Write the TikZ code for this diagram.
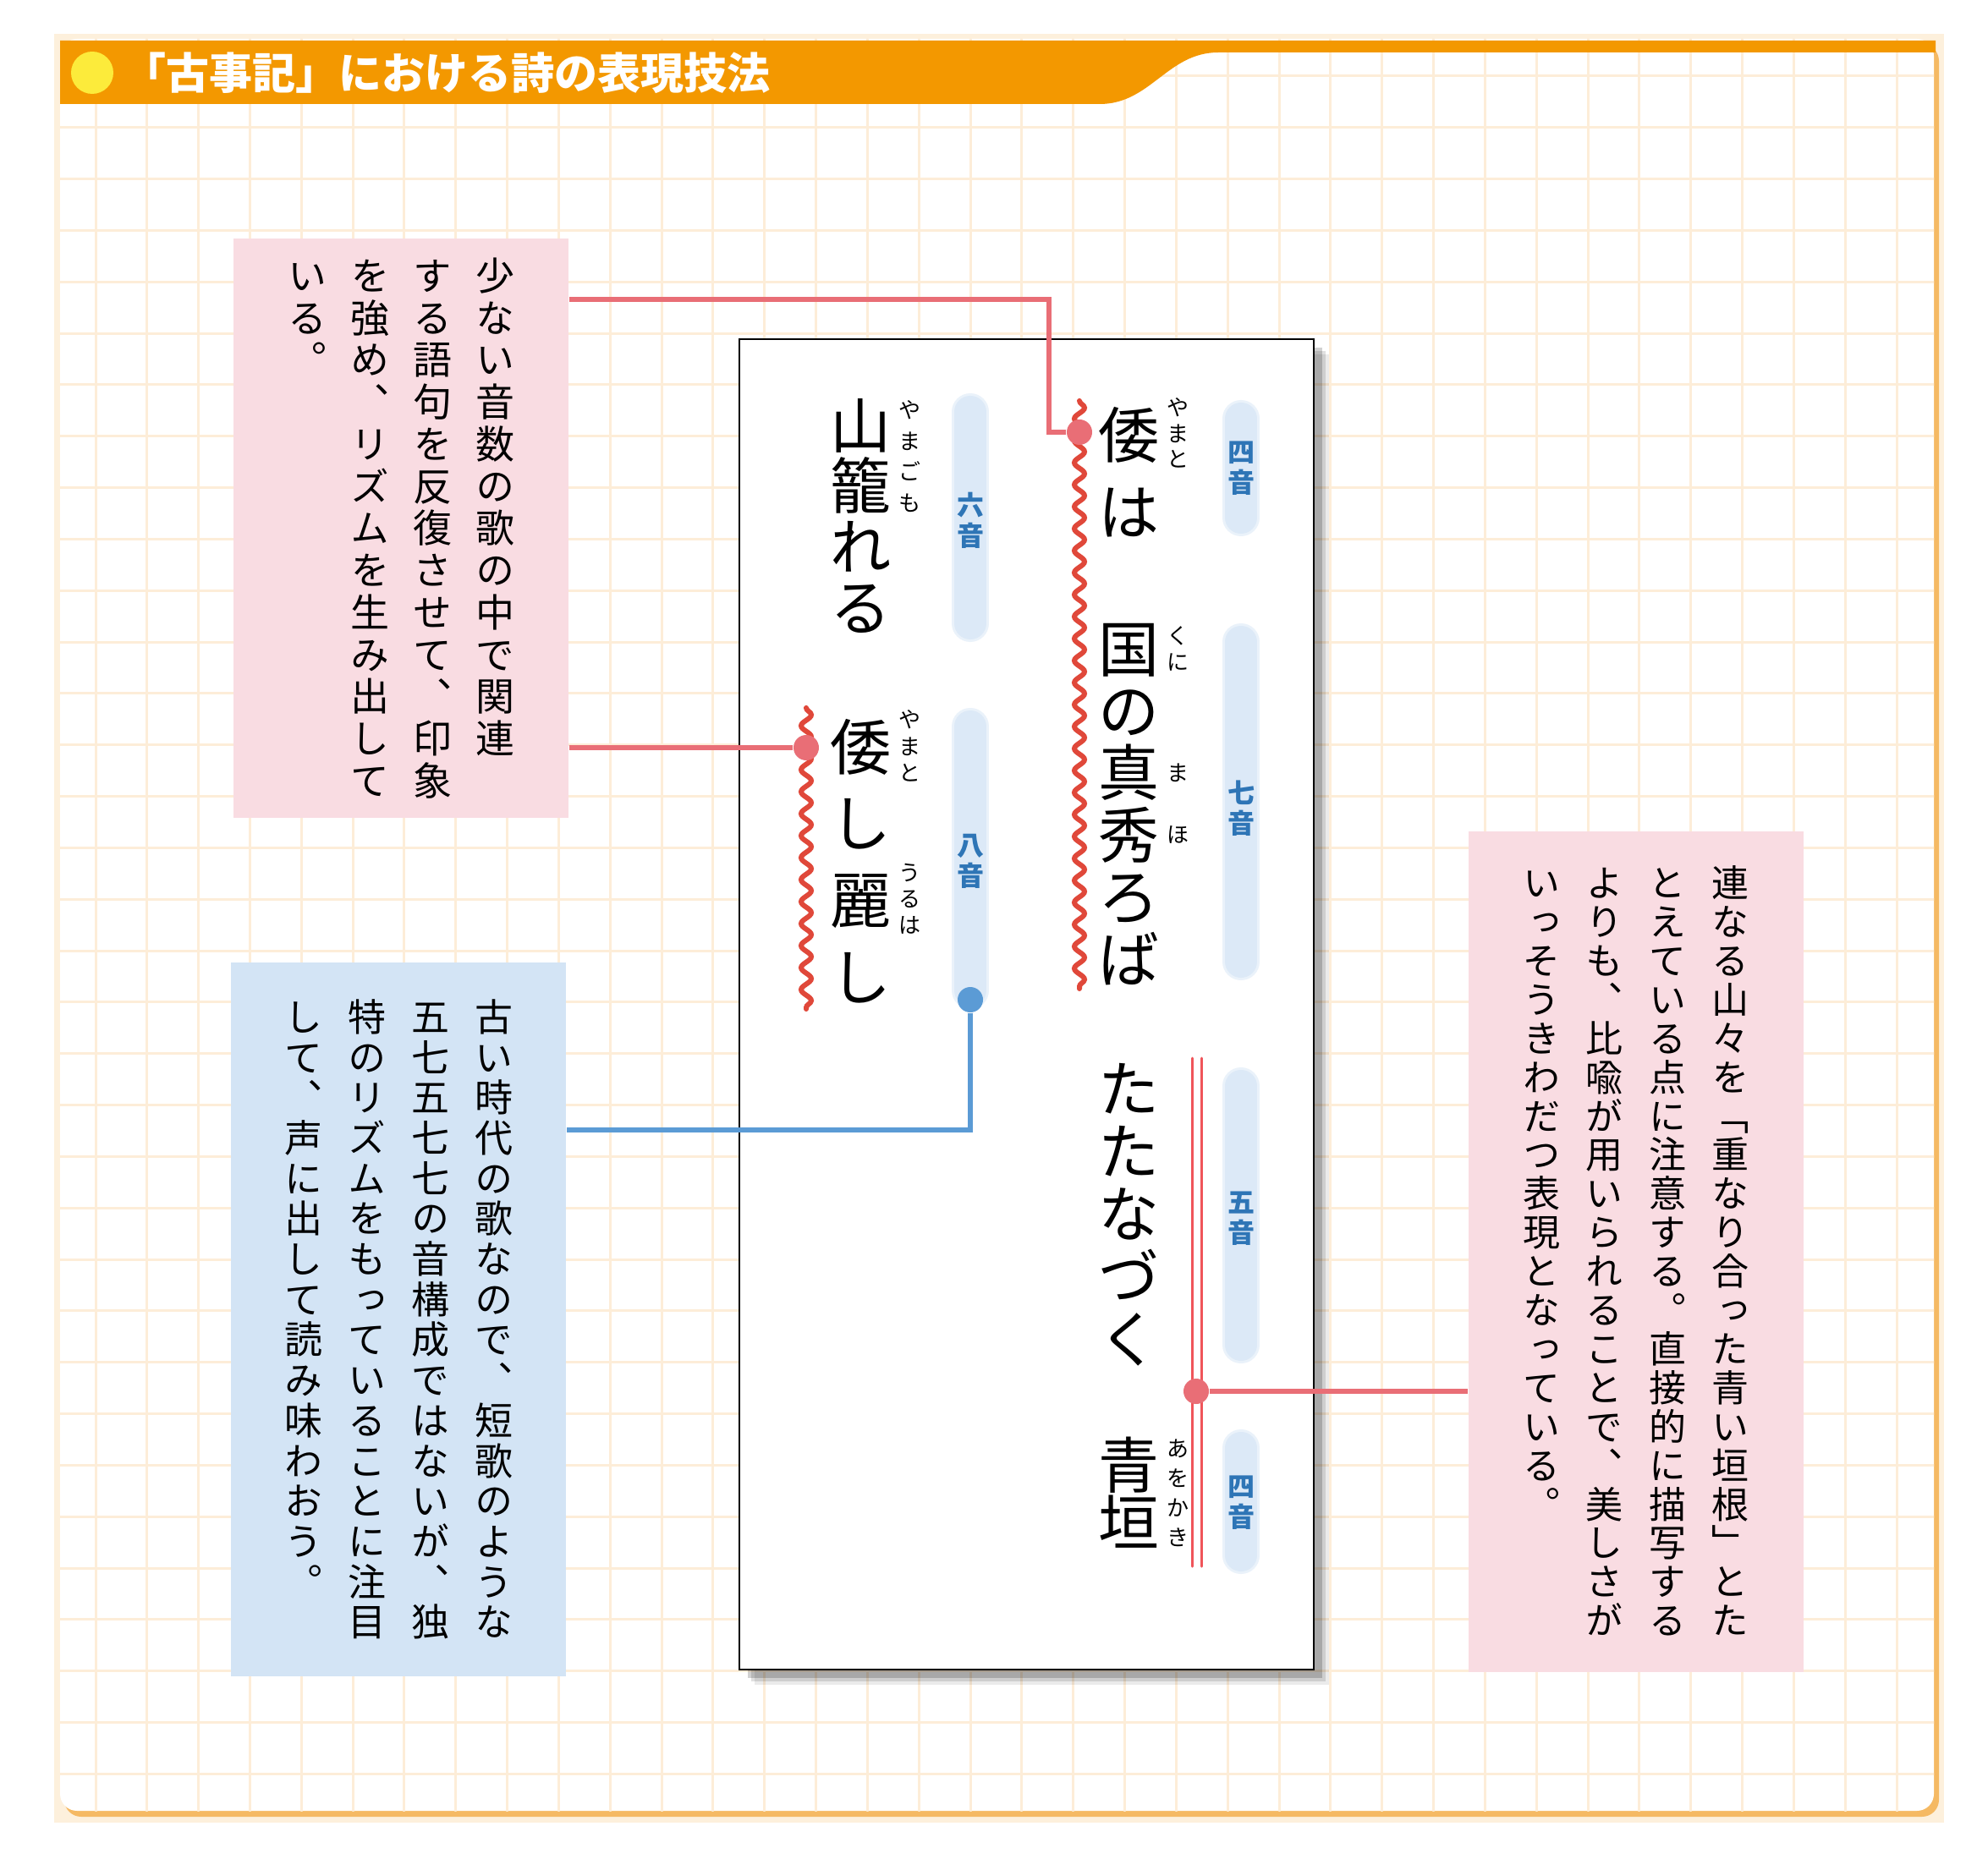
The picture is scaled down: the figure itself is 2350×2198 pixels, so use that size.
\documentclass[tikz,border=0pt]{standalone}
\usepackage{fontspec}
\setmainfont{Noto Sans CJK JP}
\newfontfamily\tatefont[RawFeature=+vert]{Noto Sans CJK JP}
\usepackage{xcolor}
\definecolor{myorange}{RGB}{243,152,0}
\definecolor{myyellow}{RGB}{252,235,59}
\definecolor{mypink}{RGB}{249,220,226}
\definecolor{myblue}{RGB}{211,228,245}
\definecolor{mygrid}{RGB}{253,237,216}
\definecolor{mycream}{RGB}{253,240,220}
\definecolor{myframe}{RGB}{245,185,99}
\definecolor{myline}{RGB}{233,110,118}
\definecolor{mywave}{RGB}{224,72,58}
\definecolor{mydouble}{RGB}{240,85,90}
\definecolor{mybline}{RGB}{91,155,213}
\definecolor{mylabel}{RGB}{46,117,182}
\definecolor{mypill}{RGB}{220,233,247}
\usetikzlibrary{decorations.pathmorphing,shadows}

% vertical text: one character per cell, columns from right to left
\makeatletter
\newbox\tate@box
\newcommand\tateline[2]{%
  \edef\tate@list{#2}%
  \vtop{\baselineskip=#1\lineskiplimit=-\maxdimen
    \expandafter\@tfor\expandafter\tch\expandafter:\expandafter=\tate@list\do{%
      \hbox to 1em{\vrule width 0pt height .88em depth .12em\hss\smash{\tch}\hss}}}}
\newcommand\tatepara[3]{%
  \setbox\tate@box\hbox{}%
  \@for\tcol:=#3\do{%
    \setbox\tate@box\hbox{\tateline{#1}{\tcol}\hskip\dimexpr#2-1em\relax\unhbox\tate@box}}%
  \hbox{\unhbox\tate@box\unskip}}
\makeatother

\begin{document}
\begin{tikzpicture}[x=0.1mm,y=-0.1mm,line cap=round]
	\tikzstyle{note}=[rectangle,inner sep=0,minimum width=39.6mm,font=\tatefont\fontsize{4.6mm}{4.6mm}\selectfont];
	\tikzstyle{paper}=[rectangle,draw=black,line width=.25mm,fill=white,inner sep=0,
		drop shadow={shadow xshift=1.8mm,shadow yshift=-1.8mm,fill=black,opacity=.08},
		drop shadow={shadow xshift=1.4mm,shadow yshift=-1.4mm,fill=black,opacity=.12},
		drop shadow={shadow xshift=1.0mm,shadow yshift=-1.0mm,fill=black,opacity=.18}];
	\tikzstyle{verse}=[anchor=north,inner sep=0,font=\fontsize{7.2mm}{7.2mm}\selectfont];
	\tikzstyle{ruby}=[anchor=north,inner sep=0,font=\fontsize{2.6mm}{2.6mm}\selectfont];
	\tikzstyle{onsu}=[anchor=north,inner sep=0,text=mylabel,font=\bfseries\fontsize{3.2mm}{3.2mm}\selectfont];
	\tikzstyle{pill}=[line width=3.8mm,mypill];
	\tikzstyle{wave}=[mywave,line width=.6mm,decorate,decoration={snake,segment length=2.6mm,amplitude=.6mm}];
	\tikzstyle{pline}=[myline,line width=.6mm,line cap=butt];
	\tikzstyle{bline}=[mybline,line width=.6mm,line cap=butt];
	\tikzstyle{pdot}=[circle,fill=myline,inner sep=0,minimum size=3mm];
	\tikzstyle{bdot}=[circle,fill=mybline,inner sep=0,minimum size=3mm];
	\useasboundingbox (0,0) rectangle (2350,2198);
	% frame and grid
	\fill[mycream] (64,40) rectangle (2298,2155);
	\fill[myframe,rounded corners=2mm] (76,52) rectangle (2292,2148);
	\fill[white,rounded corners=2mm] (71,46) rectangle (2286,2141);
	\begin{scope}
		\clip (71,46) rectangle (2286,2141);
		\foreach \i in {0,...,35} \draw[mygrid,line width=.3mm] (113+60.83*\i,46) -- (113+60.83*\i,2141);
		\foreach \j in {0,...,33} \draw[mygrid,line width=.3mm] (71,90+60.83*\j) -- (2286,90+60.83*\j);
	\end{scope}
	% title bar
	\fill[myorange] (71,48) -- (2288,48) -- (2288,62) -- (1440,62)
		.. controls (1380,62) and (1360,123) .. (1300,123) -- (71,123) -- cycle;
	\fill[myyellow] (109,86) circle (2.5mm);
	\node[anchor=west,inner sep=0,text=white,font=\bfseries\fontsize{5.1mm}{5.1mm}\selectfont] (title) at (145,86) {「古事記」における詩の表現技法};
	% notes
	\node[note,fill=mypink,minimum height=68.5mm] (box1) at (474,624.5)
		{\tatepara{4.975mm}{7.4mm}{少ない音数の歌の中で関連,する語句を反復させて、印象,を強め、リズムを生み出して,いる。}};
	\node[note,fill=myblue,minimum height=84.4mm,font=\tatefont\fontsize{4.5mm}{4.5mm}\selectfont] (box2) at (471,1560)
		{\tatepara{4.77mm}{7.5mm}{古い時代の歌なので、短歌のような,五七五七七の音構成ではないが、独,特のリズムをもっていることに注目,して、声に出して読み味わおう。}};
	\node[note,fill=mypink,minimum height=99.4mm,font=\tatefont\fontsize{4.4mm}{4.4mm}\selectfont] (box3) at (1934,1480)
		{\tatepara{4.59mm}{7.43mm}{連なる山々を「重なり合った青い垣根」とた,とえている点に注意する。直接的に描写する,よりも、比喩が用いられることで、美しさが,いっそうきわだつ表現となっている。}};
	% the poem
	\node[paper,minimum width=67.9mm,minimum height=157.3mm] (poem) at (1213.5,1187.5) {};
	\draw[pill,line width=4.4mm,mypill!60] (1467,495) -- (1467,612);
	\draw[pill] (1467,495) -- (1467,612);
	\draw[pill,line width=4.4mm,mypill!60] (1467,759) -- (1467,1137);
	\draw[pill] (1467,759) -- (1467,1137);
	\draw[pill,line width=4.4mm,mypill!60] (1467,1284) -- (1467,1590);
	\draw[pill] (1467,1284) -- (1467,1590);
	\draw[pill,line width=4.4mm,mypill!60] (1467,1712) -- (1467,1839);
	\draw[pill] (1467,1712) -- (1467,1839);
	\draw[pill,line width=4.4mm,mypill!60] (1147,487) -- (1147,737);
	\draw[pill] (1147,487) -- (1147,737);
	\draw[pill,line width=4.4mm,mypill!60] (1147,859) -- (1147,1171);
	\draw[pill] (1147,859) -- (1147,1171);
	\node[onsu] (on4a) at (1467,518) {\tateline{3.6mm}{四音}};
	\node[onsu] (on7) at (1467,921) {\tateline{3.6mm}{七音}};
	\node[onsu] (on5) at (1467,1405) {\tateline{3.6mm}{五音}};
	\node[onsu] (on4b) at (1467,1741) {\tateline{3.6mm}{四音}};
	\node[onsu] (on6) at (1147,581) {\tateline{3.6mm}{六音}};
	\node[onsu] (on8) at (1147,983) {\tateline{3.6mm}{八音}};
	\node[verse] (v1) at (1334,477) {\tateline{9.1mm}{倭は}};
	\node[verse] (v2) at (1334,730) {\tateline{7.34mm}{国の真秀ろば}};
	\node[verse] (v3) at (1334,1250) {\tateline{7.4mm}{たたなづく}};
	\node[verse] (v4) at (1334,1695) {\tateline{6.8mm}{青垣}};
	\node[verse] (v5) at (1017,466) {\tateline{7.17mm}{山籠れる}};
	\node[verse] (v6) at (1017,846) {\tateline{9.07mm}{倭し麗し}};
	\node[ruby] (r1) at (1392,468) {\tateline{3.05mm}{やまと}};
	\node[ruby] (r2) at (1392,738) {\tateline{3.1mm}{くに}};
	\node[ruby] (r3) at (1392,900) {\tateline{3.1mm}{ま}};
	\node[ruby] (r4) at (1392,973) {\tateline{3.1mm}{ほ}};
	\node[ruby] (r5) at (1392,1699) {\tateline{3.5mm}{あをかき}};
	\node[ruby] (r6) at (1075,471) {\tateline{3.67mm}{やまごも}};
	\node[ruby] (r7) at (1075,837) {\tateline{3.15mm}{やまと}};
	\node[ruby] (r8) at (1075,1018) {\tateline{3.1mm}{うるは}};
	% marks in the poem
	\draw[wave] (1276,474) -- (1276,1169);
	\draw[wave] (953,837) -- (953,1193);
	\draw[mydouble,line width=.3mm] (1409,1251) -- (1409,1852);
	\draw[mydouble,line width=.3mm] (1420,1251) -- (1420,1852);
	\node[pdot] (dotA) at (1276,511) {};
	\node[pdot] (dotB) at (953,884) {};
	\node[bdot] (dotC) at (1147,1182) {};
	\node[pdot] (dotD) at (1414,1645) {};
	% connectors
	\draw[pline] ([yshift=-7.3mm]box1.north east) -| ([xshift=-3.6mm]dotA.center) -- (dotA);
	\draw[pline] (box1.east |- dotB) -- (dotB);
	\draw[bline] (dotC) |- ([yshift=-19.9mm]box2.north east);
	\draw[pline] (dotD) -- (box3.west |- dotD);
\end{tikzpicture}
\end{document}
